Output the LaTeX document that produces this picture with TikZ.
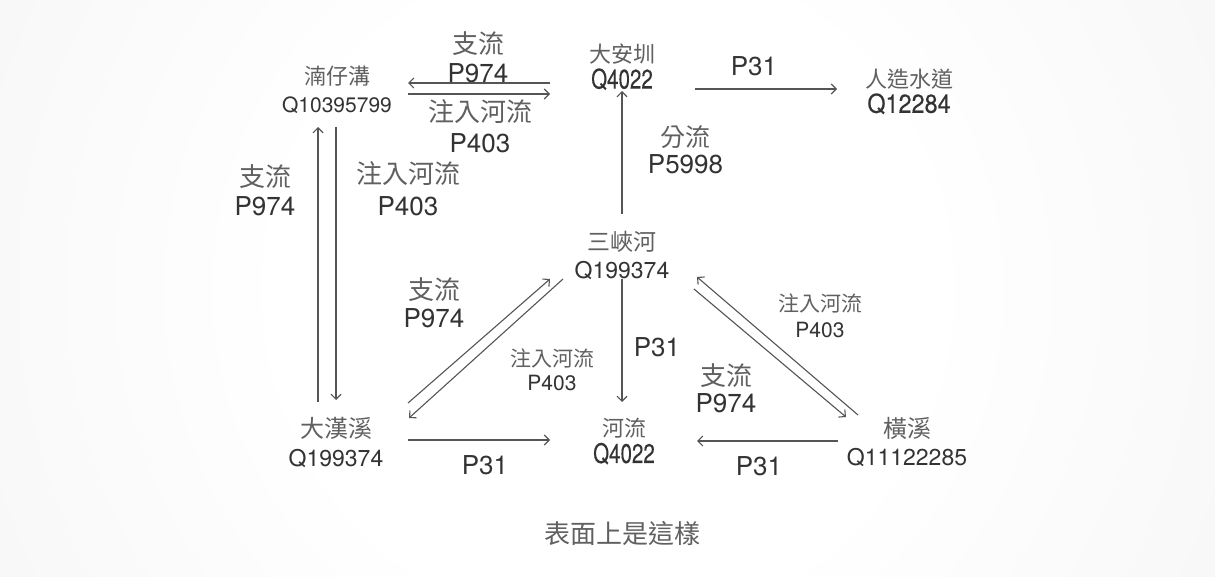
\documentclass[tikz,border=0pt]{standalone}
\usepackage{fontspec}
\setmainfont{TeX Gyre Heros}
\newfontfamily\cjk{Noto Sans CJK TC}
\newfontfamily\heavy[FakeBold=0.3]{TeX Gyre Heros}
\usepackage{xcolor}
\usepackage{graphicx}
\usepackage{tikz}
\usetikzlibrary{arrows.meta}
\usetikzlibrary{calc}
\definecolor{ink}{HTML}{333333}
\definecolor{inkzh}{HTML}{606060}
\definecolor{wire}{HTML}{555555}
\definecolor{bgedge}{HTML}{EAEAEA}
\newcommand\fs[2]{\fontsize{#1}{#2}\selectfont}
\newcommand\zh[2][22]{{\fs{#1}{#1}\cjk\color{inkzh}#2}}
\newcommand\qid[3]{{\heavy\fs{#1}{#1}\scalebox{#2}[1]{#3}}}
\pgfdeclareradialshading{backdrop}{\pgfpoint{0bp}{0bp}}{color(0bp)=(white); color(12bp)=(white); color(50bp)=(bgedge)}
\tikzstyle{rv}=[inner sep=0pt,align=center,text=ink]
\tikzstyle{lb}=[inner sep=0pt,align=center,text=ink]
\tikzstyle{fl}=[line width=1.1pt,draw=wire,-{Straight Barb[length=5pt,width=10pt]}]

\begin{document}
\begin{tikzpicture}[x=1pt,y=-1pt]
  \useasboundingbox (0,0) rectangle (1215,577);
  \begin{scope}
    \clip (0,0) rectangle (1215,577);
    \shade[shading=backdrop] (607.5,288.5) circle[radius=672];
  \end{scope}
  \node[rv,font=\fs{21}{28.5}] (nz) at (337,90)    {\zh{湳仔溝}\\Q10395799};
  \node[rv,font=\fs{23}{26}]   (da) at (622,67)    {\zh{大安圳}\\\qid{27}{.76}{Q4022}};
  \node[rv,font=\fs{23}{25.5}] (rz) at (909,91.5)  {\zh{人造水道}\\\qid{26}{.9}{Q12284}};
  \node[rv,font=\fs{23}{28}]   (sx) at (622,255)   {\zh[23]{三峽河}\\Q199374};
  \node[rv,font=\fs{23}{29}]   (dh) at (336,443)   {\zh[24]{大漢溪}\\Q199374};
  \node[rv,font=\fs{23}{26}]   (hl) at (624,441.5) {\zh{河流}\\\qid{27}{.76}{Q4022}};
  \node[rv,font=\fs{23}{28}]   (hx) at (907,442.5) {\zh[24]{橫溪}\\Q11122285};

  \node[lb,font=\fs{26}{28.5}] (l1)  at (478,57.5)  {\zh[26]{支流}\\P974};
  \node[lb,font=\fs{26}{31}]   (l2)  at (480,126)   {\zh[26]{注入河流}\\P403};
  \node[lb,font=\fs{26}{29}]   (l3)  at (265,190)   {\zh[26]{支流}\\P974};
  \node[lb,font=\fs{26}{32}]   (l4)  at (408,189)   {\zh[26]{注入河流}\\P403};
  \node[lb,font=\fs{26}{27}]   (l5)  at (685.5,150) {\zh[25]{分流}\\P5998};
  \node[lb,font=\fs{26}{26}]   (l6)  at (754,66.5)  {P31};
  \node[lb,font=\fs{26}{28}]   (l7)  at (434,302.5) {\zh[26]{支流}\\P974};
  \node[lb,font=\fs{21}{23.5}] (l8)  at (552,370)   {\zh[21]{注入河流}\\P403};
  \node[lb,font=\fs{26}{26}]   (l9)  at (657,347)   {P31};
  \node[lb,font=\fs{26}{26}]   (l10) at (485,465.5) {P31};
  \node[lb,font=\fs{21}{25.5}] (l11) at (820,316)   {\zh[21]{注入河流}\\P403};
  \node[lb,font=\fs{26}{27}]   (l12) at (726,388.5) {\zh[26]{支流}\\P974};
  \node[lb,font=\fs{26}{26}]   (l13) at (759,466)   {P31};
  \node[lb] (cap) at (622,533) {\zh[26]{表面上是這樣}};

  \draw[fl] ($(da)+(-72,16)$) -- ($(nz)+(71,-7)$);
  \draw[fl] ($(nz)+(71,4)$) -- ($(da)+(-72,27)$);
  \draw[fl] ($(dh)+(-18,-41)$) -- ($(nz)+(-19,37)$);
  \draw[fl] ($(nz)+(-1,37)$) -- ($(dh)+(0,-43)$);
  \draw[fl] ($(sx)+(0,-41)$) -- ($(da)+(0,24)$);
  \draw[fl] ($(da)+(73,22)$) -- ($(rz)+(-72,-2.5)$);
  \draw[fl] ($(dh)+(72,-40)$) -- ($(sx)+(-72,24)$);
  \draw[fl] ($(sx)+(-59,24)$) -- ($(dh)+(73,-25)$);
  \draw[fl] ($(sx)+(0,24)$) -- ($(hl)+(-2,-39.5)$);
  \draw[fl] ($(dh)+(72,-3)$) -- ($(hl)+(-74,-1.5)$);
  \draw[fl] ($(hx)+(-49,-27.5)$) -- ($(sx)+(75,22)$);
  \draw[fl] ($(sx)+(72,34)$) -- ($(hx)+(-61,-25.5)$);
  \draw[fl] ($(hx)+(-69,-1.5)$) -- ($(hl)+(73,-0.5)$);
\end{tikzpicture}
\end{document}
